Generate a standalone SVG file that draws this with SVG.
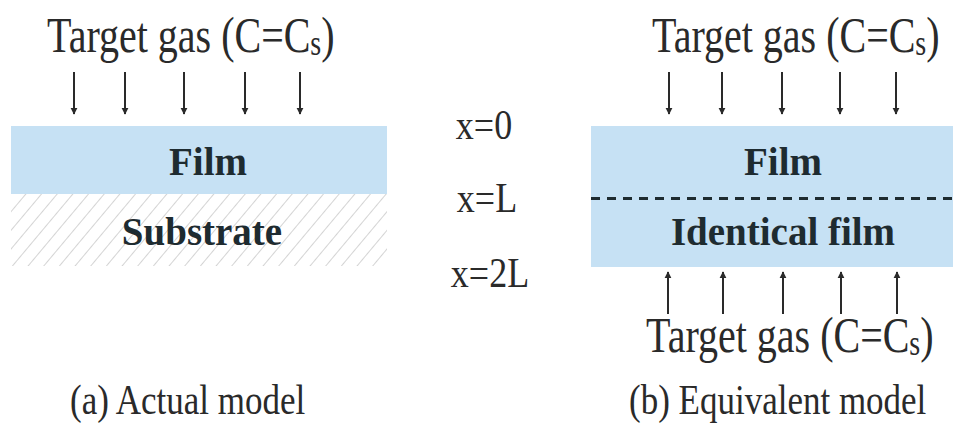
<svg xmlns="http://www.w3.org/2000/svg" width="954" height="428" viewBox="0 0 954 428">
<style>
.t{font-family:"Liberation Serif","Times New Roman",serif;fill:#2a2a2a;}
.title{font-size:40px;}
.lab{font-size:36px;}
.cap{font-size:35px;}
.bold{font-family:"Liberation Serif","Times New Roman",serif;font-weight:bold;font-size:39px;fill:#1e2b30;}
.film{fill:#c6e1f4;}
.arr{stroke:#2a2a2a;stroke-width:2;fill:none;}
</style>
<defs>
<marker id="ah" viewBox="0 0 10 10" refX="9" refY="5" markerWidth="7" markerHeight="8" markerUnits="userSpaceOnUse" orient="auto">
<path d="M0,0 L10,5 L0,10 z" fill="#2a2a2a"/>
</marker>
<pattern id="hatch" patternUnits="userSpaceOnUse" width="12" height="12" patternTransform="rotate(40)">
<line x1="0" y1="0" x2="0" y2="12" stroke="#c9c9c9" stroke-width="1.6"/>
</pattern>
</defs>

<g id="panel-a">
<text class="t title" transform="translate(47,52) scale(1,1.25)">Target gas (C=C<tspan font-size="28" dy="2">s</tspan><tspan dy="-2">)</tspan></text>
<g id="film-a">
<rect class="film" x="11" y="126" width="376" height="68"/>
<text class="bold" x="208" y="175" text-anchor="middle">Film</text>
</g>
<g id="substrate">
<rect x="11" y="194" width="376" height="72" fill="url(#hatch)"/>
<text class="bold" x="202" y="245" text-anchor="middle">Substrate</text>
</g>
<text class="t cap" transform="translate(70,414) scale(1,1.22)">(a) Actual model</text>
</g>

<g id="positions">
<text class="t lab" text-anchor="middle" transform="translate(484,139) scale(1,1.2)">x=0</text>
<text class="t lab" text-anchor="middle" transform="translate(487,212) scale(1,1.2)">x=L</text>
<text class="t lab" text-anchor="middle" transform="translate(490,287) scale(1,1.2)">x=2L</text>
</g>

<g id="panel-b">
<text class="t title" transform="translate(652,52) scale(1,1.25)">Target gas (C=C<tspan font-size="28" dy="2">s</tspan><tspan dy="-2">)</tspan></text>
<g id="film-b">
<rect class="film" x="591" y="126" width="362" height="141"/>
<text class="bold" x="783" y="175" text-anchor="middle">Film</text>
<text class="bold" x="783" y="245" text-anchor="middle">Identical film</text>
</g>
<text class="t title" transform="translate(646,352) scale(1,1.25)">Target gas (C=C<tspan font-size="28" dy="2">s</tspan><tspan dy="-2">)</tspan></text>
<text class="t cap" transform="translate(629,414) scale(1,1.22)">(b) Equivalent model</text>
</g>

<g id="connectors">
<line x1="591" y1="198.5" x2="953" y2="198.5" stroke="#1e2b30" stroke-width="3" stroke-dasharray="9,7"/>
<g class="arr" marker-end="url(#ah)">
<line x1="74" y1="72" x2="74" y2="114"/>
<line x1="125" y1="72" x2="125" y2="114"/>
<line x1="184" y1="72" x2="184" y2="114"/>
<line x1="245" y1="72" x2="245" y2="114"/>
<line x1="300" y1="72" x2="300" y2="114"/>
<line x1="669" y1="72" x2="669" y2="114"/>
<line x1="722" y1="72" x2="722" y2="114"/>
<line x1="782" y1="72" x2="782" y2="114"/>
<line x1="840" y1="72" x2="840" y2="114"/>
<line x1="896" y1="72" x2="896" y2="114"/>
<line x1="668" y1="314" x2="668" y2="272"/>
<line x1="723" y1="314" x2="723" y2="272"/>
<line x1="783" y1="314" x2="783" y2="272"/>
<line x1="841" y1="314" x2="841" y2="272"/>
<line x1="897" y1="314" x2="897" y2="272"/>
</g>
</g>
</svg>
